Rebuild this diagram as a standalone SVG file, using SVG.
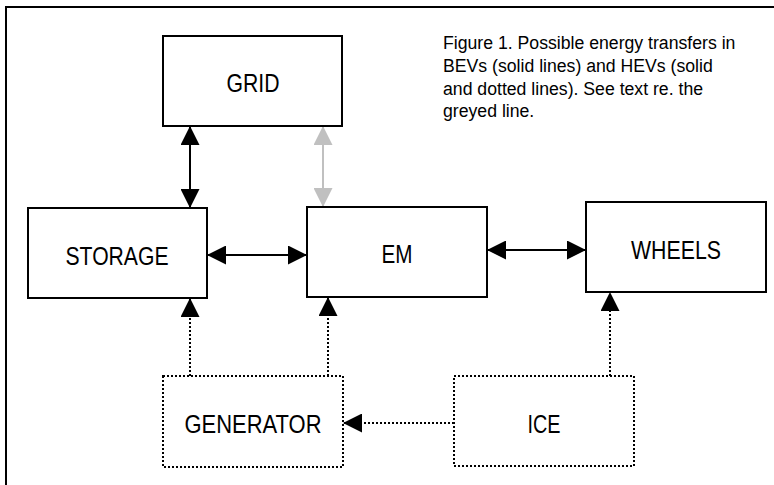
<svg xmlns="http://www.w3.org/2000/svg" width="774" height="485" viewBox="0 0 774 485">
<style>
.box{fill:#fff;stroke:#000;stroke-width:2}
.dbox{fill:#fff;stroke:#000;stroke-width:2;stroke-dasharray:2 2}
.lbl{font-family:"Liberation Sans",Arial,sans-serif;font-size:26px;fill:#000;text-anchor:middle}
.cap{font-family:"Liberation Sans",Arial,sans-serif;font-size:19px;fill:#000}
.ln{stroke:#000;stroke-width:2;fill:none}
.grey{stroke:#c0c0c0;stroke-width:2;fill:none}
.dot{stroke:#000;stroke-width:2;fill:none;stroke-dasharray:2 2}
</style>
<defs>
<marker id="ah" markerUnits="userSpaceOnUse" markerWidth="19" markerHeight="19" refX="19" refY="9.5" orient="auto-start-reverse" viewBox="0 0 19 19">
<path d="M0,0 L19,9.5 L0,19 z" fill="#000"/>
</marker>
<marker id="ahg" markerUnits="userSpaceOnUse" markerWidth="19" markerHeight="19" refX="19" refY="9.5" orient="auto-start-reverse" viewBox="0 0 19 19">
<path d="M0,0 L19,9.5 L0,19 z" fill="#c0c0c0"/>
</marker>
</defs>
<rect x="0" y="0" width="774" height="485" fill="#fff"/>
<rect x="6" y="7" width="900" height="600" fill="none" stroke="#000" stroke-width="2"/>
<g id="caption" transform="translate(443,0) scale(0.93,1)">
<text class="cap" x="0" y="49">Figure 1. Possible energy transfers in</text>
<text class="cap" x="0" y="72">BEVs (solid lines) and HEVs (solid</text>
<text class="cap" x="0" y="95">and dotted lines). See text re. the</text>
<text class="cap" x="0" y="117">greyed line.</text>
</g>
<g id="connectors">
<line class="ln" x1="190" y1="126" x2="190" y2="208" marker-start="url(#ah)" marker-end="url(#ah)"/>
<line class="grey" x1="323" y1="126" x2="323" y2="207" marker-start="url(#ahg)" marker-end="url(#ahg)"/>
<line class="ln" x1="207" y1="255" x2="307" y2="255" marker-start="url(#ah)" marker-end="url(#ah)"/>
<line class="ln" x1="487" y1="250" x2="586" y2="250" marker-start="url(#ah)" marker-end="url(#ah)"/>
<line class="dot" x1="190" y1="376" x2="190" y2="298" marker-end="url(#ah)"/>
<line class="dot" x1="328" y1="376" x2="328" y2="297" marker-end="url(#ah)"/>
<line class="dot" x1="610" y1="376" x2="610" y2="292" marker-end="url(#ah)"/>
<line class="dot" x1="454" y1="423" x2="343" y2="423" marker-end="url(#ah)"/>
</g>
<g id="grid">
<rect class="box" x="163" y="36" width="179" height="90"/>
<text class="lbl" x="253" y="92" textLength="53" lengthAdjust="spacingAndGlyphs">GRID</text>
</g>
<g id="storage">
<rect class="box" x="28" y="208" width="179" height="90"/>
<text class="lbl" x="117" y="265" textLength="103" lengthAdjust="spacingAndGlyphs">STORAGE</text>
</g>
<g id="em">
<rect class="box" x="307" y="207" width="180" height="90"/>
<text class="lbl" x="397" y="263" textLength="31" lengthAdjust="spacingAndGlyphs">EM</text>
</g>
<g id="wheels">
<rect class="box" x="586" y="202" width="180" height="90"/>
<text class="lbl" x="676" y="259" textLength="90" lengthAdjust="spacingAndGlyphs">WHEELS</text>
</g>
<g id="generator">
<rect class="dbox" x="163" y="376" width="180" height="91"/>
<text class="lbl" x="253" y="433" textLength="137" lengthAdjust="spacingAndGlyphs">GENERATOR</text>
</g>
<g id="ice">
<rect class="dbox" x="454" y="376" width="180" height="90"/>
<text class="lbl" x="544" y="433" textLength="33" lengthAdjust="spacingAndGlyphs">ICE</text>
</g>
</svg>
